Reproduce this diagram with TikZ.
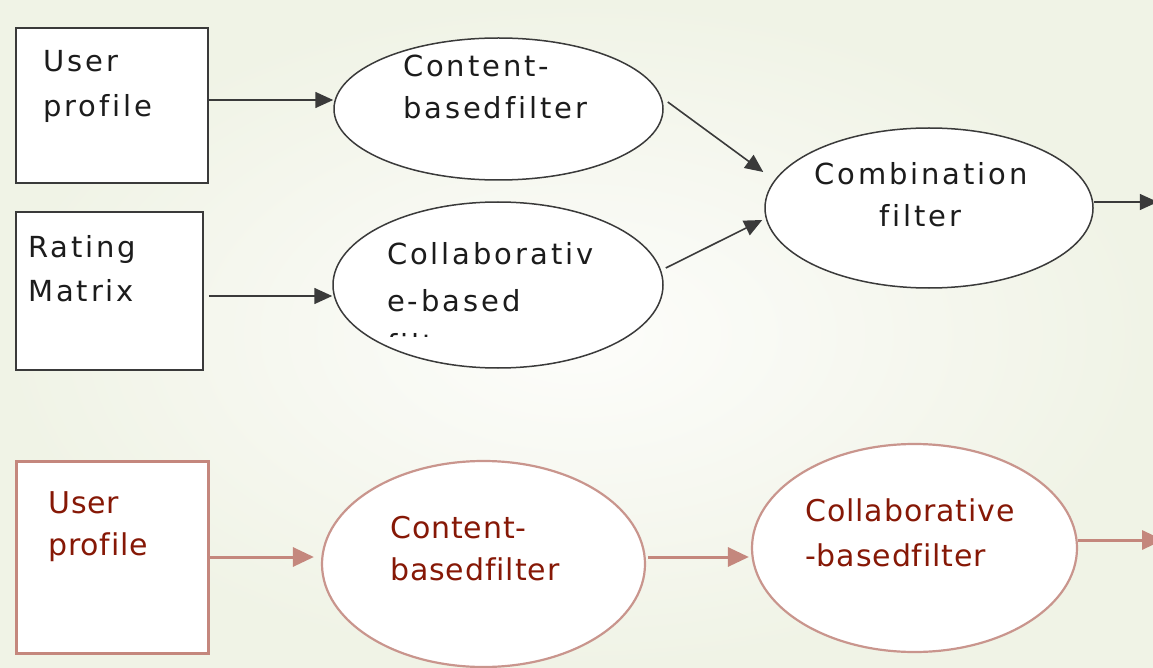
\documentclass[tikz,border=0pt]{standalone}
\usepackage{fontspec}
\usetikzlibrary{shapes.geometric,arrows.meta,calc}
\newfontfamily\upperfont[LetterSpace=10,Ligatures=NoCommon]{DejaVu Sans}
\newfontfamily\lowerfont[LetterSpace=3,Ligatures=NoCommon]{DejaVu Sans}
\definecolor{bgin}{HTML}{FDFDFB}
\definecolor{bgout}{HTML}{F0F3E6}
\definecolor{ink}{HTML}{3A3A3A}
\definecolor{txtdark}{HTML}{1C1C1C}
\definecolor{rosy}{HTML}{C4877D}
\definecolor{rosyline}{HTML}{C9958D}
\definecolor{maroon}{HTML}{861806}
\tikzset{
  upbox/.style={rectangle, draw=ink, line width=1.8pt, fill=white, inner sep=0pt},
  upell/.style={ellipse, draw=ink, line width=1.5pt, fill=white, inner sep=0pt},
  lowbox/.style={rectangle, draw=rosy, line width=3pt, fill=white, inner sep=0pt},
  lowell/.style={ellipse, draw=rosyline, line width=2.2pt, fill=white, inner sep=0pt},
  uptxt/.style={inner sep=0pt, anchor=base west, text=txtdark,
    font=\upperfont\fontsize{29}{29}\selectfont},
  lowtxt/.style={inner sep=0pt, anchor=base west, text=maroon,
    font=\lowerfont\fontsize{30}{30}\selectfont},
  uparrow/.style={draw=ink, line width=1.6pt, -{Triangle[length=18pt,width=16pt]}},
  lowarrow/.style={draw=rosy, line width=3pt, -{Triangle[length=21pt,width=19pt]}},
}
\begin{document}
\begin{tikzpicture}[x=1pt,y=-1pt]
  % canvas and backdrop
  \clip (0,0) rectangle (1153,668);
  \shade[inner color=bgin, outer color=bgout] (0,0) rectangle (1153,668);

  % ---- hybrid (parallel) recommender ----
  \node[upbox, minimum width=192pt, minimum height=155pt] (b1) at (112,105.5) {};
  \node[upbox, minimum width=187pt, minimum height=158pt] (b2) at (109.5,291) {};
  \node[upell, minimum width=329pt, minimum height=142pt] (e1) at (498.5,109) {};
  \node[upell, minimum width=330pt, minimum height=166pt] (e2) at (498,285) {};
  \node[upell, minimum width=328pt, minimum height=160pt] (e3) at (929,208) {};

  \node[uptxt] (t1a) at (43,72) {User};
  \node[uptxt] (t1b) at (43,117) {profile};
  \node[uptxt] (t2a) at (28,258) {Rating};
  \node[uptxt] (t2b) at (28,301.5) {Matrix};
  \node[uptxt] (t3a) at (403,77) {Content-};
  \node[uptxt] (t3b) at (403,119) {basedfilter};
  \node[uptxt] (t4a) at (387,265) {Collaborativ};
  \node[uptxt] (t4b) at (387,311.5) {e-based};
  \begin{scope}
    \clip (380,320) rectangle (480,336);
    \node[uptxt] (t4c) at (387,355) {filter};
  \end{scope}
  \node[uptxt, anchor=base] (t5a) at (921,185) {Combination};
  \node[uptxt, anchor=base] (t5b) at (920,227) {filter};

  \draw[uparrow] ($(b1.east)+(0,-5.5)$) -- ($(e1.west)+(0,-9)$);
  \draw[uparrow] ($(b2.east)+(5,5)$) -- ($(e2.west)+(0,11)$);
  \draw[uparrow] ($(e1.east)+(4,-7)$) -- ($(e3.west)+(-1,-36)$);
  \draw[uparrow] ($(e2.east)+(2,-17)$) -- ($(e3.west)+(-2,12)$);
  \draw[uparrow] ($(e3.east)+(0,-6)$) -- ($(e3.east)+(64,-6)$);

  % ---- cascade recommender ----
  \node[lowbox, minimum width=192pt, minimum height=192pt] (b3) at (112,557) {};
  \node[lowell, minimum width=323pt, minimum height=206pt] (e4) at (483.5,564) {};
  \node[lowell, minimum width=325pt, minimum height=208pt] (e5) at (914.5,548) {};

  \node[lowtxt] (t6a) at (48,513) {User};
  \node[lowtxt] (t6b) at (48,555) {profile};
  \node[lowtxt] (t7a) at (390,538) {Content-};
  \node[lowtxt] (t7b) at (390,580) {basedfilter};
  \node[lowtxt] (t8a) at (805,521) {Collaborative};
  \node[lowtxt] (t8b) at (805,566) {-basedfilter};

  \draw[lowarrow] (b3.east) -- ($(e4.west)+(-7,-7)$);
  \draw[lowarrow] ($(e4.east)+(2,-7)$) -- ($(e5.west)+(-2,9)$);
  \draw[lowarrow] ($(e5.east)+(0,-8)$) -- ($(e5.east)+(85,-8)$);
\end{tikzpicture}
\end{document}
